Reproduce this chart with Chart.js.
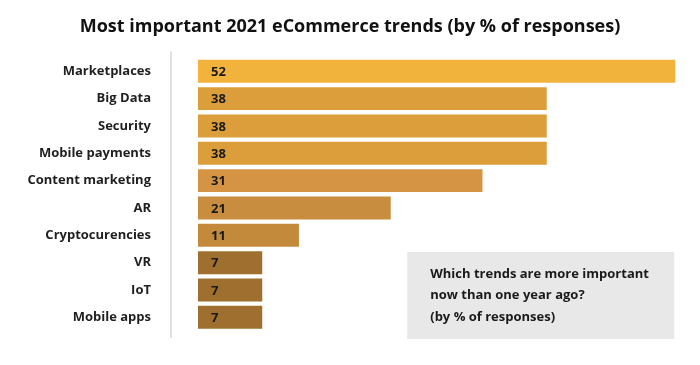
<!DOCTYPE html>
<html>
<head>
<meta charset="utf-8">
<script src="https://cdn.jsdelivr.net/npm/chart.js@4"></script>
<style>
  html, body { margin: 0; padding: 0; background: #fff; }
  canvas { display: block; }
</style>
</head>
<body>
<canvas id="chart" width="700" height="365"></canvas>
<script>
"use strict";

// ── data ───────────────────────────────────────────────
const categories = [
  "Marketplaces", "Big Data", "Security", "Mobile payments", "Content marketing",
  "AR", "Cryptocurencies", "VR", "IoT", "Mobile apps"
];
const shares = [52, 38, 38, 38, 31, 21, 11, 7, 7, 7];
const barColors = [
  "#F2B33C", "#DC9E3B", "#DC9E3B", "#DC9E3B", "#D49444",
  "#C98D3F", "#C48A3C", "#9E6F2E", "#9E6F2E", "#9E6F2E"
];
const titleText = "Most important 2021 eCommerce trends (by % of responses)";
const noteLines = [
  "Which trends are more important",
  "now than one year ago?",
  "(by % of responses)"
];

const FONT = "'Open Sans', 'Noto Sans', sans-serif";

// 값 라벨 (막대 안쪽 왼쪽)
const valueLabels = {
  id: "valueLabels",
  afterDatasetsDraw(chart) {
    const ctx = chart.ctx;
    const meta = chart.getDatasetMeta(0);
    ctx.save();
    ctx.font = "bold 13px " + FONT;
    ctx.fillStyle = "#1a1a1a";
    ctx.textAlign = "left";
    ctx.textBaseline = "middle";
    meta.data.forEach((bar, i) => {
      ctx.fillText(String(shares[i]), bar.base + 13, bar.y + 1);
    });
    ctx.restore();
  }
};

// 세로 구분선 + 회색 설명 박스
const decorations = {
  id: "decorations",
  beforeDatasetsDraw(chart) {
    const { ctx, chartArea } = chart;
    ctx.save();
    ctx.strokeStyle = "#e0e0e0";
    ctx.lineWidth = 2;
    ctx.beginPath();
    ctx.moveTo(chartArea.left - 27, chartArea.top - 6);
    ctx.lineTo(chartArea.left - 27, chartArea.bottom + 7);
    ctx.stroke();
    ctx.restore();
  },
  afterDatasetsDraw(chart) {
    const { ctx, chartArea, scales } = chart;
    const right = scales.x.getPixelForValue(52) - 1;
    const left = right - 267;
    const bottom = chartArea.bottom + 8;
    const top = bottom - 87;
    ctx.save();
    ctx.fillStyle = "#e8e8e8";
    ctx.fillRect(left, top, right - left, bottom - top);
    ctx.font = "bold 13px " + FONT;
    ctx.fillStyle = "#1a1a1a";
    ctx.textAlign = "left";
    ctx.textBaseline = "middle";
    noteLines.forEach((line, i) => {
      ctx.fillText(line, left + 23, top + 22 + i * 21.5);
    });
    ctx.restore();
  }
};

new Chart(document.getElementById("chart"), {
  type: "bar",
  data: {
    labels: categories,
    datasets: [{
      data: shares,
      backgroundColor: barColors,
      borderWidth: 0,
      categoryPercentage: 1,
      barPercentage: 0.84,
    }],
  },
  plugins: [decorations, valueLabels],
  options: {
    indexAxis: "y",
    responsive: false,
    animation: false,
    layout: { padding: { left: 0, right: 0, top: 0, bottom: 34 } },
    plugins: {
      legend: { display: false },
      tooltip: { enabled: false },
      title: {
        display: true,
        text: titleText,
        color: "#111",
        font: { family: FONT, size: 18, weight: "bold", lineHeight: 1.2 },
        padding: { top: 16, bottom: 20 },
      },
    },
    scales: {
      x: {
        display: false,
        min: 0,
        max: 54.7,
      },
      y: {
        grid: { display: false, drawTicks: false },
        border: { display: false },
        ticks: {
          color: "#1f1f1f",
          padding: 47,
          font: { family: FONT, size: 13, weight: "bold" },
        },
        afterFit(scale) {
          scale.width = 198;
          // 틱 패딩이 세로 여백까지 키우지 않도록
          scale.paddingTop = 0;
          scale.paddingBottom = 0;
        },
      },
    },
  },
});
</script>
</body>
</html>
